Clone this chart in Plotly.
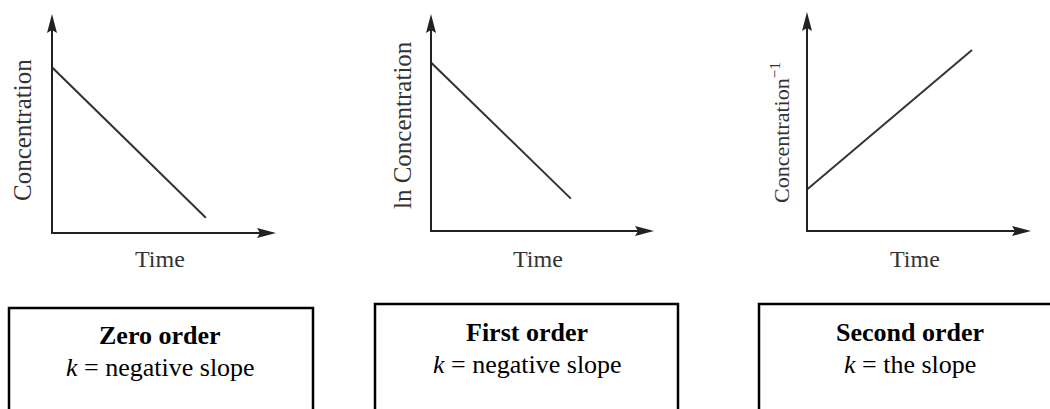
import plotly.graph_objs as go

# data (arbitrary units, axes run 0..10)
time_zero = [0, 6.9]
conc_zero = [7.6, 0.7]

time_first = [0, 6.3]
lnconc_first = [7.8, 1.5]

time_second = [0, 7.4]
invconc_second = [1.9, 8.3]

y_labels = ["Concentration", "ln Concentration", "Concentration<sup>\u22121</sup>"]
x_label = "Time"
box_titles = ["Zero order", "First order", "Second order"]
box_texts = ["<i>k</i> = negative slope", "<i>k</i> = negative slope", "<i>k</i> = the slope"]

W, H = 1050, 409
SERIF = "Liberation Serif"
LINE_COLOR = "#333333"
AXIS_COLOR = "#222222"

# pixel geometry of each panel: origin x, origin y, x arrow tip, y arrow tip
panels = [(52, 233, 275, 15), (431, 231, 653, 15), (807, 231, 1030, 13)]
# y label centres (x, y, font size) and x label centres
ylab_pos = [(22, 130, 25), (402, 125, 25), (780, 133, 22)]
xlab_pos = [(160, 259), (538, 259), (915, 259)]
# boxes: left, right, top ; text line centres
boxes = [(9, 313, 308, 160, 335, 367), (375, 678, 304, 527, 332, 364), (759, 1060, 304, 910, 332, 364)]


def px(x):
    return x / W


def py(y):
    return (H - y) / H


series = [(time_zero, conc_zero), (time_first, lnconc_first), (time_second, invconc_second)]

fig = go.Figure()
layout = dict(
    width=W,
    height=H,
    margin=dict(l=0, r=0, t=0, b=0),
    paper_bgcolor="white",
    plot_bgcolor="white",
    showlegend=False,
)

shapes = []
annotations = []

for i, (ox, oy, tx, ty) in enumerate(panels):
    n = "" if i == 0 else str(i + 1)
    xa, ya = "x" + n, "y" + n
    layout["xaxis" + n] = dict(domain=[px(ox), px(tx)], range=[0, 10], visible=False, anchor=ya, fixedrange=True)
    layout["yaxis" + n] = dict(domain=[py(oy), py(ty)], range=[0, 10], visible=False, anchor=xa, fixedrange=True)

    t, v = series[i]
    fig.add_trace(go.Scatter(x=t, y=v, mode="lines", xaxis=xa, yaxis=ya, cliponaxis=False,
                             line=dict(color=LINE_COLOR, width=2), hoverinfo="skip"))

    # axes with arrow heads (paper coords so they are not clipped)
    shapes.append(dict(type="line", xref="paper", yref="paper", x0=px(ox), y0=py(oy), x1=px(tx - 10), y1=py(oy),
                       line=dict(color=AXIS_COLOR, width=2)))
    shapes.append(dict(type="line", xref="paper", yref="paper", x0=px(ox), y0=py(oy + 1), x1=px(ox), y1=py(ty + 10),
                       line=dict(color=AXIS_COLOR, width=2)))
    shapes.append(dict(type="path", xref="paper", yref="paper", xsizemode="pixel", ysizemode="pixel",
                       xanchor=px(tx), yanchor=py(oy), path="M1,0 L-18,5 L-15,0 L-18,-5 Z",
                       fillcolor=AXIS_COLOR, line=dict(width=0)))
    shapes.append(dict(type="path", xref="paper", yref="paper", xsizemode="pixel", ysizemode="pixel",
                       xanchor=px(ox), yanchor=py(ty), path="M0,1 L-5,-18 L0,-15 L5,-18 Z",
                       fillcolor=AXIS_COLOR, line=dict(width=0)))

    lx, ly, fs = ylab_pos[i]
    annotations.append(dict(text=y_labels[i], x=px(lx), y=py(ly), xref="paper", yref="paper",
                            textangle=-90, showarrow=False, xanchor="center", yanchor="middle",
                            font=dict(family=SERIF, size=fs, color=LINE_COLOR)))
    lx, ly = xlab_pos[i]
    annotations.append(dict(text=x_label, x=px(lx), y=py(ly), xref="paper", yref="paper",
                            showarrow=False, xanchor="center", yanchor="middle",
                            font=dict(family=SERIF, size=24, color=LINE_COLOR)))

    bl, br, bt, cx, t1, t2 = boxes[i]
    shapes.append(dict(type="rect", xref="paper", yref="paper", x0=px(bl), x1=px(br),
                       y0=-0.1, y1=py(bt), line=dict(color="black", width=2.5)))
    annotations.append(dict(text="<b>" + box_titles[i] + "</b>", x=px(cx), y=py(t1),
                            xref="paper", yref="paper", showarrow=False,
                            xanchor="center", yanchor="middle",
                            font=dict(family=SERIF, size=26, color="black")))
    annotations.append(dict(text=box_texts[i], x=px(cx), y=py(t2),
                            xref="paper", yref="paper", showarrow=False,
                            xanchor="center", yanchor="middle",
                            font=dict(family=SERIF, size=26, color="black")))

layout["shapes"] = shapes
layout["annotations"] = annotations
fig.update_layout(**layout)

fig.write_html("out.html", config=dict(displayModeBar=False),
               post_script="document.body.style.margin='0';")
